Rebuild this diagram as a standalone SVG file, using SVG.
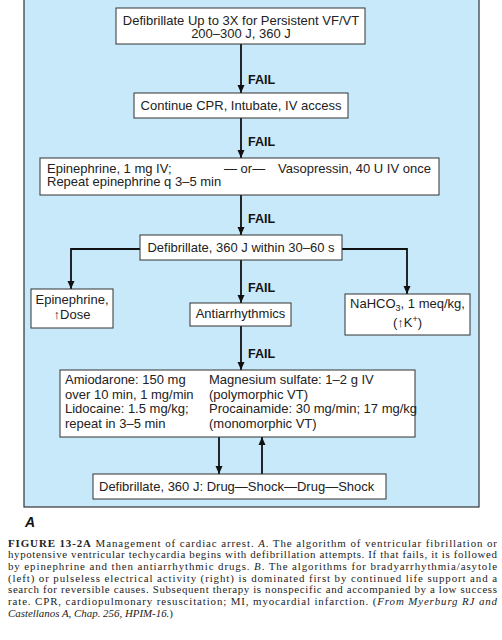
<svg xmlns="http://www.w3.org/2000/svg" width="502" height="640" viewBox="0 0 502 640">
<style>
.box{fill:#fff;stroke:#333;stroke-width:1}
.t{font-family:"Liberation Sans",Arial,sans-serif;font-size:13px;fill:#222}
.c{text-anchor:middle}
.fail{font-family:"Liberation Sans",Arial,sans-serif;font-size:12.5px;font-weight:bold;fill:#111}
.ln{fill:none;stroke:#111;stroke-width:1.8}
.cap{font-family:"Liberation Serif","Times New Roman",serif;font-size:10.9px;fill:#222}
</style>
<defs>
<marker id="ah" viewBox="0 0 8 12" refX="8" refY="6" markerWidth="8" markerHeight="12" markerUnits="userSpaceOnUse" orient="auto">
<path d="M0,2.5 L8,6 L0,9.5 Z" fill="#111"/>
</marker>
</defs>
<rect x="24" y="-2" width="455" height="509" fill="#c8e9f9" stroke="#333" stroke-width="1.2"/>
<g id="connectors">
<line class="ln" x1="241" y1="44" x2="241" y2="93" marker-end="url(#ah)"/>
<line class="ln" x1="241" y1="118" x2="241" y2="158" marker-end="url(#ah)"/>
<line class="ln" x1="241" y1="195" x2="241" y2="235" marker-end="url(#ah)"/>
<polyline class="ln" points="140,249 71,249 71,289" marker-end="url(#ah)"/>
<polyline class="ln" points="342,249 407,249 407,294" marker-end="url(#ah)"/>
<line class="ln" x1="241" y1="260" x2="241" y2="303" marker-end="url(#ah)"/>
<line class="ln" x1="241" y1="326" x2="241" y2="370" marker-end="url(#ah)"/>
<line class="ln" x1="219" y1="437" x2="219" y2="474" marker-end="url(#ah)"/>
<line class="ln" x1="262" y1="474" x2="262" y2="437" marker-end="url(#ah)"/>
<text class="fail" x="248" y="84">FAIL</text>
<text class="fail" x="248" y="146">FAIL</text>
<text class="fail" x="248" y="223">FAIL</text>
<text class="fail" x="248" y="292">FAIL</text>
<text class="fail" x="248" y="358">FAIL</text>
</g>
<g id="n1">
<rect class="box" x="116" y="8" width="249" height="36"/>
<text class="t c" x="241" y="25">Defibrillate Up to 3X for Persistent VF/VT</text>
<text class="t c" x="241" y="38">200–300 J, 360 J</text>
</g>
<g id="n2">
<rect class="box" x="134" y="93" width="214" height="25"/>
<text class="t c" x="241" y="110">Continue CPR, Intubate, IV access</text>
</g>
<g id="n3">
<rect class="box" x="40" y="158" width="399" height="37"/>
<text class="t" x="47" y="172.5">Epinephrine, 1 mg IV;</text>
<text class="t" x="224" y="172.5">— or—</text>
<text class="t" x="278" y="172.5">Vasopressin, 40 U IV once</text>
<text class="t" x="47" y="185.5">Repeat epinephrine q 3–5 min</text>
</g>
<g id="n4">
<rect class="box" x="140" y="235" width="202" height="25"/>
<text class="t c" x="241" y="252">Defibrillate, 360 J within 30–60 s</text>
</g>
<g id="n5">
<rect class="box" x="31" y="289" width="82" height="39"/>
<text class="t c" x="72" y="304">Epinephrine,</text>
<text class="t c" x="72" y="318.5">↑Dose</text>
</g>
<g id="n6">
<rect class="box" x="190" y="303" width="101" height="23"/>
<text class="t c" x="240.5" y="318">Antiarrhythmics</text>
</g>
<g id="n7">
<rect class="box" x="345" y="294" width="125" height="41"/>
<text class="t c" x="407.5" y="308">NaHCO<tspan font-size="9" dy="3">3</tspan><tspan dy="-3">, 1 meq/kg,</tspan></text>
<text class="t c" x="407.5" y="327">(↑K<tspan font-size="9" dy="-5">+</tspan><tspan dy="5">)</tspan></text>
</g>
<g id="n8">
<rect class="box" x="60" y="370" width="355" height="67"/>
<text class="t" x="65" y="384">Amiodarone: 150 mg</text>
<text class="t" x="65" y="398.5">over 10 min, 1 mg/min</text>
<text class="t" x="65" y="413">Lidocaine: 1.5 mg/kg;</text>
<text class="t" x="65" y="427.5">repeat in 3–5 min</text>
<text class="t" x="209" y="384">Magnesium sulfate: 1–2 g IV</text>
<text class="t" x="209" y="398.5">(polymorphic VT)</text>
<text class="t" x="209" y="413">Procainamide: 30 mg/min; 17 mg/kg</text>
<text class="t" x="209" y="427.5">(monomorphic VT)</text>
</g>
<g id="n9">
<rect class="box" x="93" y="474" width="293" height="25"/>
<text class="t" x="99" y="491">Defibrillate, 360 J: Drug—Shock—Drug—Shock</text>
</g>
<text x="25" y="527" font-family="Liberation Sans,Arial,sans-serif" font-size="14" font-weight="bold" font-style="italic" fill="#111">A</text>
<g id="caption">
<text class="cap" x="8" y="546.7" textLength="489" lengthAdjust="spacing"><tspan font-weight="bold">FIGURE 13-2A</tspan>   Management of cardiac arrest. <tspan font-style="italic">A</tspan>. The algorithm of ventricular fibrillation or</text>
<text class="cap" x="8" y="558.4" textLength="489" lengthAdjust="spacing">hypotensive ventricular techycardia begins with defibrillation attempts. If that fails, it is followed</text>
<text class="cap" x="8" y="570" textLength="489" lengthAdjust="spacing">by epinephrine and then antiarrhythmic drugs. <tspan font-style="italic">B</tspan>. The algorithms for bradyarrhythmia/asytole</text>
<text class="cap" x="8" y="581.7" textLength="489" lengthAdjust="spacing">(left) or pulseless electrical activity (right) is dominated first by continued life support and a</text>
<text class="cap" x="8" y="593.4" textLength="489" lengthAdjust="spacing">search for reversible causes. Subsequent therapy is nonspecific and accompanied by a low success</text>
<text class="cap" x="8" y="605" textLength="489" lengthAdjust="spacing">rate. CPR, cardiopulmonary resuscitation; MI, myocardial infarction. (<tspan font-style="italic">From Myerburg RJ and</tspan></text>
<text class="cap" x="8" y="616.7"><tspan font-style="italic">Castellanos A, Chap. 256, HPIM-16.</tspan>)</text>
</g>
</svg>
